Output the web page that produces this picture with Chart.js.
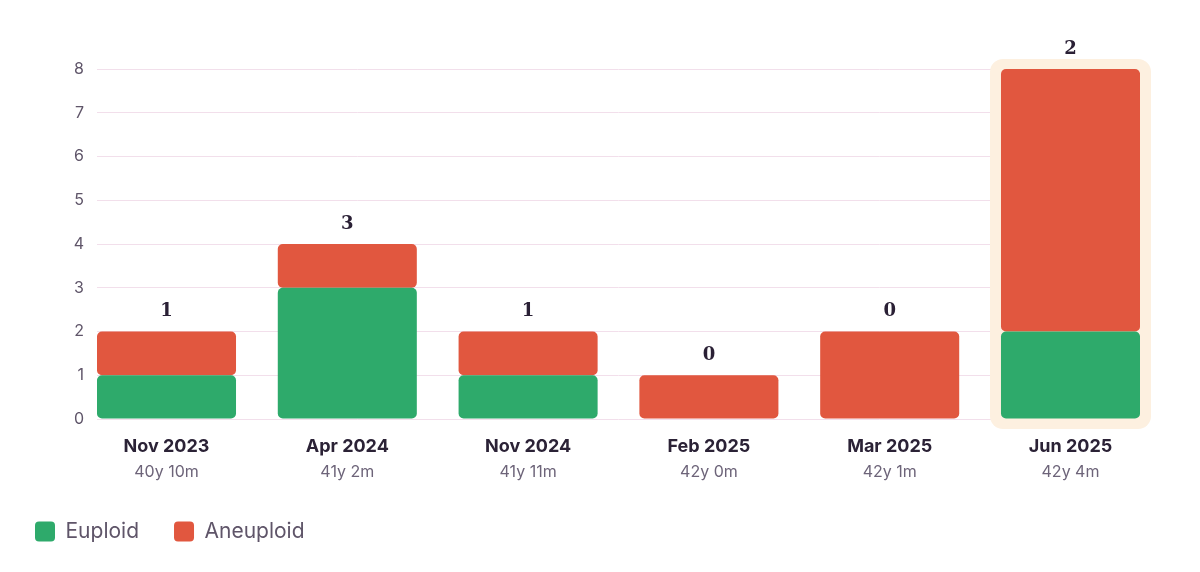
<!DOCTYPE html>
<html>
<head>
<meta charset="utf-8">
<script src="https://cdn.jsdelivr.net/npm/chart.js@4"></script>
<style>
  html, body { margin: 0; padding: 0; background: #fff; }
  #wrap { width: 1200px; height: 572px; }
</style>
</head>
<body>
<div id="wrap"><canvas id="cycles" width="1200" height="572"></canvas></div>
<script>
// chart values
const months = ['Nov 2023', 'Apr 2024', 'Nov 2024', 'Feb 2025', 'Mar 2025', 'Jun 2025'];
const ages = ['40y 10m', '41y 2m', '41y 11m', '42y 0m', '42y 1m', '42y 4m'];
const euploid = [1, 3, 1, 0, 0, 2];
const aneuploid = [1, 1, 1, 1, 2, 6];
const highlightIndex = 5;

const GREEN = '#2eaa6b';
const RED = '#e1573f';
const SANS = 'Inter, "Noto Sans", sans-serif';
const RADIUS = { topLeft: 5, topRight: 5, bottomLeft: 5, bottomRight: 5 };

const toPoints = arr => arr.map((v, i) => ({ x: i, y: v }));
const fixTicks = scale => { scale.ticks = months.map((_, i) => ({ value: i })); };

// cream box behind the latest cycle
const highlight = {
  id: 'highlight',
  beforeDatasetsDraw(chart) {
    const { ctx, scales } = chart;
    const bar = chart.getDatasetMeta(0).data[highlightIndex];
    const top = scales.y.getPixelForValue(euploid[highlightIndex] + aneuploid[highlightIndex]);
    const base = scales.y.getPixelForValue(0);
    const left = bar.x - bar.width / 2 - 11;
    const right = bar.x + bar.width / 2 + 11;
    ctx.save();
    ctx.fillStyle = '#fdf0e0';
    ctx.beginPath();
    ctx.roundRect(left, top - 10, right - left, base - top + 20, 13);
    ctx.fill();
    ctx.restore();
  }
};

// euploid count above each stack
const topLabels = {
  id: 'topLabels',
  afterDatasetsDraw(chart) {
    const { ctx, scales } = chart;
    ctx.save();
    ctx.font = 'bold 18px "DejaVu Serif", serif';
    ctx.fillStyle = '#2a2035';
    ctx.textAlign = 'center';
    ctx.textBaseline = 'middle';
    euploid.forEach((v, i) => {
      const x = scales.x.getPixelForValue(i);
      const y = scales.y.getPixelForValue(v + aneuploid[i]);
      ctx.fillText(String(v), x, y - 20);
    });
    ctx.restore();
  }
};

const bottomAxis = (labels, height, extra) => ({
  type: 'linear',
  position: 'bottom',
  offset: false,
  min: -0.3844,
  max: 5.3844,
  afterBuildTicks: fixTicks,
  afterFit: scale => { scale.height = height; },
  grid: { display: false, drawTicks: false },
  border: { display: false },
  ticks: Object.assign({
    autoSkip: false,
    maxRotation: 0,
    minRotation: 0,
    callback: v => labels[v]
  }, extra)
});

new Chart(document.getElementById('cycles'), {
  type: 'bar',
  data: {
    datasets: [
      {
        label: 'Euploid',
        data: toPoints(euploid),
        backgroundColor: GREEN,
        borderRadius: RADIUS,
        borderSkipped: false,
        categoryPercentage: 1,
        barPercentage: 0.769
      },
      {
        label: 'Aneuploid',
        data: toPoints(aneuploid),
        backgroundColor: RED,
        borderRadius: RADIUS,
        borderSkipped: false,
        categoryPercentage: 1,
        barPercentage: 0.769
      }
    ]
  },
  options: {
    responsive: false,
    animation: false,
    layout: { padding: { top: 69, right: 60, bottom: 20, left: 0 } },
    plugins: {
      tooltip: { enabled: false },
      legend: {
        position: 'bottom',
        align: 'start',
        labels: {
          boxWidth: 20,
          boxHeight: 20,
          useBorderRadius: true,
          borderRadius: 4,
          padding: 35,
          color: '#5f5569',
          font: { family: SANS, size: 21 }
        }
      }
    },
    scales: {
      x: Object.assign(bottomAxis(months, 38.4, {
        padding: 17,
        color: '#2b2236',
        font: { family: SANS, size: 18, weight: '700' }
      }), { stacked: true }),
      x2: bottomAxis(ages, 28.6, {
        padding: 1,
        color: '#6d6479',
        font: { family: SANS, size: 16, lineHeight: 1.7 }
      }),
      y: {
        stacked: true,
        min: 0,
        max: 8,
        afterFit: scale => { scale.width = 97; },
        grid: { color: '#f2dfeb', drawTicks: false },
        border: { display: false },
        ticks: {
          stepSize: 1,
          padding: 13,
          color: '#5f5569',
          font: { family: SANS, size: 16 }
        }
      }
    }
  },
  plugins: [highlight, topLabels]
});
</script>
</body>
</html>
